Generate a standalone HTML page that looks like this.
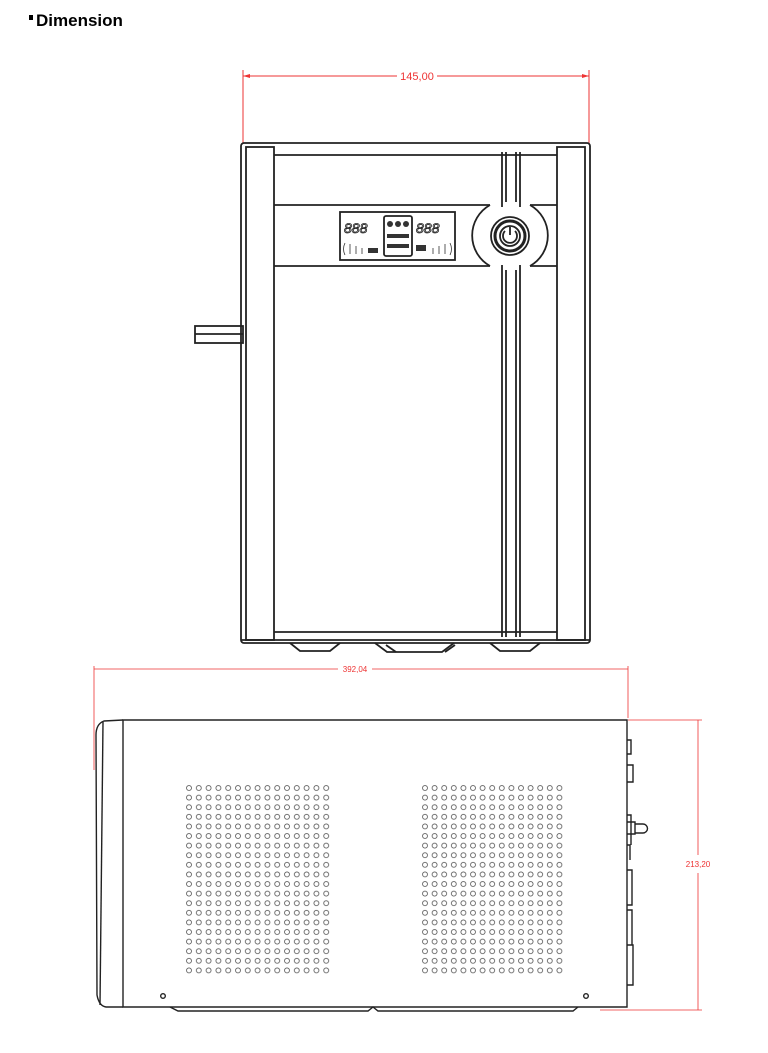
<!DOCTYPE html>
<html><head><meta charset="utf-8"><style>
html,body{margin:0;padding:0;background:#fff;}
svg{display:block;}
</style></head><body>
<svg width="768" height="1053" viewBox="0 0 768 1053" xmlns="http://www.w3.org/2000/svg">
<defs>
<pattern id="dl" patternUnits="userSpaceOnUse" x="184.1" y="783.2" width="9.8" height="9.6">
<circle cx="4.9" cy="4.8" r="2.5" fill="none" stroke="#555" stroke-width="0.8"/></pattern>
<pattern id="dr" patternUnits="userSpaceOnUse" x="420.2" y="783.2" width="9.6" height="9.6">
<circle cx="4.8" cy="4.8" r="2.5" fill="none" stroke="#555" stroke-width="0.8"/></pattern>
</defs>
<rect x="29" y="15" width="4" height="5" fill="#000"/>
<text x="36" y="26" font-family="Liberation Sans, sans-serif" font-weight="bold" font-size="17" fill="#000">Dimension</text>

<!-- top dimension -->
<g stroke="#e33" stroke-width="1" fill="none">
<line x1="243" y1="70" x2="243" y2="143"/>
<line x1="589" y1="70" x2="589" y2="143"/>
<line x1="243" y1="76" x2="397" y2="76"/>
<line x1="437" y1="76" x2="589" y2="76"/>
</g>
<path d="M243 76 l7 -2 v4z M589 76 l-7 -2 v4z" fill="#e33"/>
<text x="417" y="80" text-anchor="middle" font-family="Liberation Sans, sans-serif" font-size="11" fill="#e33">145,00</text>

<!-- front view -->
<g stroke="#222" stroke-width="1.8" fill="none">
<rect x="241" y="143" width="349" height="500" rx="3"/>
<rect x="246" y="147" width="28" height="493"/>
<rect x="557" y="147" width="28" height="493"/>
<line x1="274" y1="155" x2="557" y2="155"/>
<line x1="274" y1="205" x2="490" y2="205"/>
<line x1="530" y1="205" x2="557" y2="205"/>
<line x1="274" y1="266" x2="490" y2="266"/>
<line x1="530" y1="266" x2="557" y2="266"/>
<line x1="274" y1="632" x2="557" y2="632"/>
<line x1="241" y1="640" x2="590" y2="640"/>
<path d="M502 152 v55 M506 152 v50 M516 152 v50 M520 152 v55"/>
<path d="M502 265 v372 M506 270 v367 M516 270 v367 M520 265 v372"/>
<path d="M490 205 a35 35 0 0 0 0 61 M530 205 a35 35 0 0 1 0 61"/>
<circle cx="510" cy="236" r="19"/>
<circle cx="510" cy="236" r="15" stroke-width="3"/>
<circle cx="510" cy="236" r="10"/>
<path d="M505 231 a7 7 0 1 0 10 0 M510 227 v8"/>
<rect x="340" y="212" width="115" height="48"/>
<rect x="384" y="216" width="28" height="40" rx="2"/>
<path d="M290 643 l10 8 h30 l10 -8 M375 643 l12 9 h55 l12 -9 M490 643 l10 8 h30 l10 -8"/>
<path d="M386 645 l10 7 M455 645 l-10 7"/>
<rect x="195" y="326" width="48" height="17"/>
<line x1="195" y1="334" x2="243" y2="334"/>
</g>
<g font-family="Liberation Sans, sans-serif" font-size="14" font-style="italic" fill="none" stroke="#222" stroke-width="0.8">
<text x="344" y="233">888</text><text x="416" y="233">888</text>
</g>
<g fill="#333"><circle cx="390" cy="224" r="3"/><circle cx="398" cy="224" r="3"/><circle cx="406" cy="224" r="3"/>
<rect x="387" y="234" width="22" height="4"/><rect x="387" y="244" width="22" height="4"/>
<rect x="368" y="248" width="10" height="5"/><rect x="416" y="245" width="10" height="6"/></g>
<g fill="none" stroke="#333" stroke-width="0.8">
<path d="M345 243 q-3 6 0 12 M350 244 v10 M356 246 v8 M362 248 v6"/>
<path d="M450 243 q3 6 0 12 M445 244 v10 M439 246 v8 M433 248 v6"/></g>

<!-- side dimension -->
<g stroke="#e33" stroke-width="0.8" fill="none">
<line x1="94" y1="666" x2="94" y2="770"/>
<line x1="628" y1="666" x2="628" y2="718"/>
<line x1="94" y1="669" x2="338" y2="669"/>
<line x1="372" y1="669" x2="628" y2="669"/>
<line x1="628" y1="720" x2="702" y2="720"/>
<line x1="600" y1="1010" x2="702" y2="1010"/>
<line x1="698" y1="720" x2="698" y2="855"/>
<line x1="698" y1="873" x2="698" y2="1010"/>
</g>
<text x="355" y="672" text-anchor="middle" font-family="Liberation Sans, sans-serif" font-size="8" fill="#e33">392,04</text>
<text x="698" y="867" text-anchor="middle" font-family="Liberation Sans, sans-serif" font-size="8" fill="#e33">213,20</text>

<!-- side view -->
<g stroke="#222" stroke-width="1.4" fill="none">
<path d="M123 720 H627 V1007 H123 Z"/>
<path d="M123 720 L104 721 Q96 724 96 735 L97 995 Q99 1006 106 1007 H123"/>
<path d="M103 722 L100 1005"/>
<path d="M170 1007 l8 4 h190 l5 -4 l5 4 h195 l5 -4"/>
<path d="M627 740 h4 v14 h-4 M627 765 h6 v17 h-6 M627 815 h4 v30 M627 822 h8 v12 h-8 M635 824 h8 a4 4 0 0 1 0 9 h-8 M627 845 h3 v15 M627 870 h5 v35 h-5 M627 910 h5 v35 h-5 M627 945 h6 v40 h-6"/>
<circle cx="163" cy="996" r="2.3"/>
<circle cx="586" cy="996" r="2.3"/>
</g>
<rect x="184.1" y="783.2" width="147" height="192" fill="url(#dl)"/>
<rect x="420.2" y="783.2" width="144" height="192" fill="url(#dr)"/>
</svg>
</body></html>
